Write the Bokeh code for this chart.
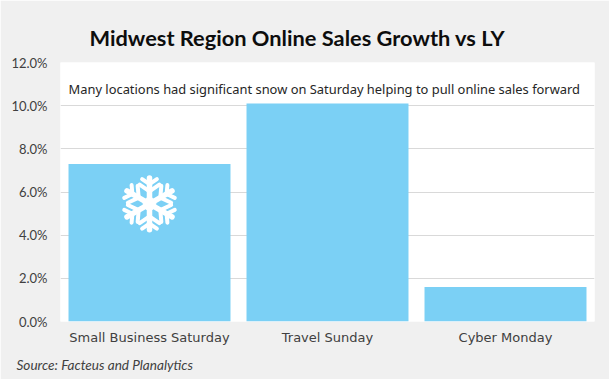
import math
from bokeh.plotting import figure
from bokeh.models import ColumnDataSource, FixedTicker, NumeralTickFormatter, Label, Title
from bokeh.embed import file_html
from bokeh.resources import INLINE

categories = ["Small Business Saturday", "Travel Sunday", "Cyber Monday"]
growth = [0.073, 0.101, 0.016]
y_ticks = [0, 0.02, 0.04, 0.06, 0.08, 0.10, 0.12]
title_text = "Midwest Region Online Sales Growth vs LY"
note_text = "Many locations had significant snow on Saturday helping to pull online sales forward"
source_text = "Source: Facteus and Planalytics"

BG = "#f0f0f0"
FRAME_W, FRAME_H = 534, 260
positions = [i + 0.5 for i in range(len(categories))]
p = figure(width=609, height=379, x_range=(0, len(categories)),
           y_range=(0, 0.12), output_backend="svg", toolbar_location=None,
           background_fill_color="white", border_fill_color=BG,
           min_border_left=60, min_border_right=15, min_border_top=62, min_border_bottom=57)
p.outline_line_color = None
p.vbar(x=positions, top=growth, width=0.91, color="#7bd0f5", line_color=None)

p.xgrid.visible = False
p.ygrid.grid_line_color = "#d9d9d9"
p.ygrid.level = "underlay"
ya, xa = p.yaxis[0], p.xaxis[0]
ya.ticker = FixedTicker(ticks=y_ticks)
ya.formatter = NumeralTickFormatter(format="0.0%")
xa.ticker = FixedTicker(ticks=positions)
xa.major_label_overrides = dict(zip(positions, categories))
for a in (ya, xa):
    a.axis_line_color = None
    a.major_tick_line_color = None
    a.minor_tick_line_color = None
    a.major_tick_out = 0
    a.major_tick_in = 0
    a.major_label_text_color = "#404040"
ya.major_label_text_font = "Lato"
ya.major_label_text_font_size = "13px"
xa.major_label_text_font = "DejaVu Sans"
xa.major_label_text_font_size = "13px"
ya.major_label_standoff = 13
xa.major_label_standoff = 8

# snowflake decoration: six arms with side branches, sized in pixels, placed on the first bar
px_x = len(categories) / FRAME_W
px_y = 0.12 / FRAME_H
R = 26.0
scx, scy = positions[0], 0.0545
x0, y0, x1, y1, w = [], [], [], [], []
def arm(ax, ay, bx, by, width):
    x0.append(scx + ax * px_x); y0.append(scy + ay * px_y)
    x1.append(scx + bx * px_x); y1.append(scy + by * px_y)
    w.append(width)
for k in range(6):
    t = math.radians(90 + 60 * k)
    ux, uy = math.cos(t), math.sin(t)
    arm(0, 0, R * ux, R * uy, 5.5)
    for frac, length in ((0.48, 12), (0.76, 9)):
        bx, by = R * frac * ux, R * frac * uy
        for s in (-1, 1):
            a2 = t + s * math.radians(55)
            arm(bx, by, bx + length * math.cos(a2), by + length * math.sin(a2), 4)
src = ColumnDataSource(dict(x0=x0, x1=x1, y0=y0, y1=y1, w=w))
p.segment("x0", "y0", "x1", "y1", source=src, line_color="white", line_width="w", line_cap="round")
p.scatter([scx], [scy], size=13, marker="hex", color="white")

p.add_layout(Label(x=8, y=233, x_units="screen", y_units="screen", text=note_text,
                   text_font="Noto Sans", text_font_size="12.9px", text_color="#262626",
                   text_baseline="middle"))
p.add_layout(Title(text=title_text, text_font="Lato", text_font_size="21.8px",
                   text_font_style="bold", text_color="#0d0d0d", align="left",
                   offset=29, standoff=24), "above")
p.add_layout(Title(text=source_text, text_font="Lato", text_font_size="13.6px",
                   text_font_style="italic", text_color="#404040", align="left",
                   offset=-44, standoff=14), "below")

open("out.html", "w").write(file_html(p, INLINE))
